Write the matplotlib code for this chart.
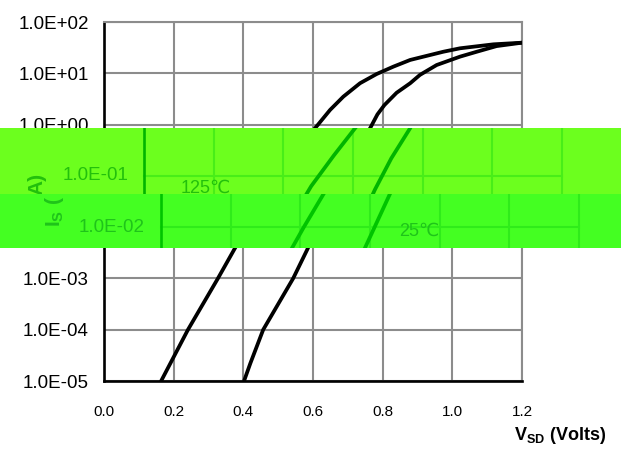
import matplotlib
matplotlib.use('Agg')
import matplotlib.pyplot as plt
from matplotlib.patches import Rectangle
from matplotlib.transforms import ScaledTranslation
from matplotlib.ticker import NullLocator

plt.rcParams['font.family'] = ['Liberation Sans', 'DejaVu Sans']
plt.rcParams['mathtext.fontset'] = 'custom'
plt.rcParams['mathtext.rm'] = 'Liberation Sans'
plt.rcParams['mathtext.bf'] = 'Liberation Sans:bold'

# ---- data ----
vsd_125 = [0.164, 0.241, 0.327, 0.41, 0.48, 0.545, 0.606, 0.649, 0.687, 0.735, 0.783,
           0.831, 0.879, 0.974, 1.022, 1.118, 1.2]
is_125 = [1e-5, 1e-4, 1e-3, 1e-2, 0.063, 0.25, 0.85, 1.93, 3.5, 6.4, 9.7,
          13.5, 18.2, 26.3, 30.7, 36.7, 39.5]
vsd_25 = [0.402, 0.42, 0.457, 0.543, 0.583, 0.62, 0.663, 0.71, 0.764, 0.785, 0.805,
          0.84, 0.879, 0.907, 0.955, 1.022, 1.07, 1.127, 1.2]
is_25 = [1e-5, 2.2e-5, 1e-4, 1e-3, 3.6e-3, 0.0126, 0.054, 0.22, 0.85, 1.58, 2.4,
         4.17, 6.4, 9.3, 14.5, 21.1, 26.3, 33.9, 39.5]
x_ticks = [0.0, 0.2, 0.4, 0.6, 0.8, 1.0, 1.2]
x_tick_labels = ['0.0', '0.2', '0.4', '0.6', '0.8', '1.0', '1.2']
y_ticks = [1e-5, 1e-4, 1e-3, 1e-2, 1e-1, 1e0, 1e1, 1e2]
y_tick_labels = ['1.0E-05', '1.0E-04', '1.0E-03', '1.0E-02', '1.0E-01', '1.0E+00', '1.0E+01', '1.0E+02']
label_125 = '125\u2103'
label_25 = '25\u2103'
label_125_pos = (0.178, 0.057)
label_25_pos = (0.741, 0.0085)
x_label = r'$\mathbf{V_{SD}}$ (Volts)'
y_label_lower = r'$\mathbf{I_{S}}$ ('   # part of "I_S (A)" seen in the lower band
y_label_upper = 'A)'                     # part seen in the upper band

W, H = 621, 450
DPI = 100
fig = plt.figure(figsize=(W / DPI, H / DPI), dpi=DPI)
pos = [104 / W, 1 - 381 / H, (522 - 104) / W, (381 - 22) / H]
ax = fig.add_axes(pos)
ax.set_yscale('log')
ax.set_xlim(0, 1.2)
ax.set_ylim(1e-5, 1e2)
ax.set_xticks(x_ticks)
ax.set_xticklabels(x_tick_labels, fontsize=11)
ax.set_yticks(y_ticks)
ax.set_yticklabels(y_tick_labels, fontsize=13.5)
ax.yaxis.set_minor_locator(NullLocator())
ax.tick_params(axis='y', length=0, pad=11)
ax.tick_params(axis='x', length=0, pad=17)
ax.grid(True, color='#8c8c8c', lw=1.5)
ax.set_axisbelow(True)
for s in ['left', 'bottom']:
    ax.spines[s].set_color('black')
    ax.spines[s].set_linewidth(1.9)
for s in ['top', 'right']:
    ax.spines[s].set_color('#8c8c8c')
    ax.spines[s].set_linewidth(1.5)
ax.plot(vsd_125, is_125, color='black', lw=2.7, solid_capstyle='round', solid_joinstyle='round', zorder=3)
ax.plot(vsd_25, is_25, color='black', lw=2.7, solid_capstyle='round', solid_joinstyle='round', zorder=3)
fig.text(560 / W, 1 - 435 / H, x_label, fontsize=13, fontweight='bold', ha='center', va='center')

# tick labels fully hidden under the bands are drawn in green by the band layer instead
for lab, y in zip(ax.get_yticklabels(), y_ticks):
    if y in (1e-1, 1e-2):
        lab.set_visible(False)

# ---- green glitch bands with shifted content ----
ax2 = fig.add_axes(pos, zorder=6)
ax2.set_yscale('log')
ax2.set_xlim(0, 1.2)
ax2.set_ylim(1e-5, 1e2)
ax2.set_axis_off()
ax2.patch.set_visible(False)

bands = [
    # y0, y1 (px), band colour, shift px, grid colour, line colour, text colour, ticks, labels, ylabel part
    (128, 194, '#6cff1e', 40, '#48ee18', '#00b400', '#22c00c', [1e-1],
     [(label_125, label_125_pos)], (y_label_upper, 37, 173, 'top')),
    (194, 248, '#44ff22', 57, '#2fec1a', '#00c400', '#1fc41a', [1e-2],
     [(label_25, label_25_pos)], (y_label_lower, 54, 227, 'bottom')),
]
for y0, y1, bcol, dx, gcol, lcol, tcol, band_ticks, band_labels, ylab in bands:
    rect = Rectangle((0, 1 - y1 / H), 1, (y1 - y0) / H, transform=fig.transFigure,
                     facecolor=bcol, edgecolor='none', zorder=5)
    fig.add_artist(rect)
    shift = ax2.transData + ScaledTranslation(dx / DPI, 0, fig.dpi_scale_trans)
    arts = []
    for x in x_ticks[1:]:
        arts += ax2.plot([x, x], [1e-5, 1e2], color=gcol, lw=1.5, transform=shift)
    for y in y_ticks:
        arts += ax2.plot([0, 1.2], [y, y], color=gcol, lw=1.5, transform=shift)
    arts += ax2.plot([0, 0], [1e-5, 1e2], color=lcol, lw=1.9, transform=shift)
    arts += ax2.plot(vsd_125, is_125, color=lcol, lw=2.7, transform=shift,
                     solid_joinstyle='round')
    arts += ax2.plot(vsd_25, is_25, color=lcol, lw=2.7, transform=shift,
                     solid_joinstyle='round')
    for txt, (tx, ty) in band_labels:
        arts.append(ax2.text(tx, ty, txt, fontsize=13, ha='center', va='center',
                             color=tcol, transform=shift))
    lab_shift = ax2.transData + ScaledTranslation((dx - 16) / DPI, 0, fig.dpi_scale_trans)
    for y, lab in zip(y_ticks, y_tick_labels):
        if y in band_ticks:
            arts.append(ax2.text(0, y, lab, fontsize=13.5, ha='right', va='center',
                                 color=tcol, transform=lab_shift))
    ytxt, yx, yy, yva = ylab
    arts.append(fig.text(yx / W, 1 - yy / H, ytxt, fontsize=15, fontweight='bold',
                         rotation=90, ha='center', va=yva, color=tcol, zorder=7))
    for a in arts:
        a.set_clip_path(rect)
        a.set_clip_on(True)

fig.savefig('out.png', dpi=DPI)
